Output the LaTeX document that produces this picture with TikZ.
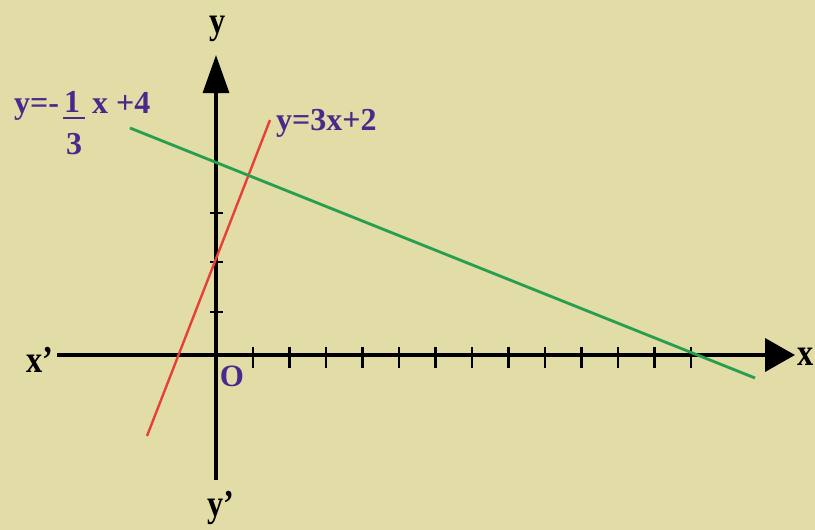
\documentclass[tikz,border=0pt]{standalone}
\usepackage{fontspec}
\setmainfont{Liberation Serif}
\usetikzlibrary{arrows.meta}
\definecolor{bgkhaki}{RGB}{226,221,167}
\definecolor{labpurple}{RGB}{72,42,140}
\definecolor{redline}{RGB}{230,64,56}
\definecolor{greenline}{RGB}{40,158,78}
\tikzset{
  axislbl/.style={font=\fontsize{38}{40}\selectfont\bfseries, text=black, inner sep=0pt, xscale=0.85},
  eqlbl/.style={font=\fontsize{32}{36}\selectfont\bfseries, text=labpurple, inner sep=0pt},
  axisline/.style={black, line width=4pt},
  tickmark/.style={black, line width=2.2pt},
  redgraph/.style={redline, line width=2.4pt},
  greengraph/.style={greenline, line width=2.8pt}
}
\begin{document}
\begin{tikzpicture}[x=1pt, y=-1pt]
\useasboundingbox[fill=bgkhaki] (0,0) rectangle (815,530);
% axes
\coordinate (xa) at (57,355);
\coordinate (xb) at (795,355);
\coordinate (ya) at (216,480);
\coordinate (yb) at (216,55);
% ticks
\foreach \k in {0,...,12}{
  \draw[tickmark] ({253+36.5*\k},347) -- ({253+36.5*\k},368);
}
\foreach \t in {213,262,312}{
  \draw[tickmark] (210,\t) -- (223,\t);
}
\draw[axisline, -{Triangle[length=30pt,width=33pt]}] (xa) -- (xb);
\draw[black, line width=3.2pt, -{Triangle[length=38pt,width=26pt]}] (ya) -- (yb);
% graphs
\coordinate (r1) at (147,436);
\coordinate (r2) at (270,120);
\coordinate (g1) at (130,128);
\coordinate (g2) at (755,378);
\draw[redgraph] (r1) -- (r2);
\draw[greengraph] (g1) -- (g2);
% axis labels
\node[axislbl, anchor=center] (xpl) at (40,360) {x’};
\node[axislbl, anchor=east] (xl) at (814,357) {x};
\node[axislbl, anchor=center] (yl) at (218,29) {y};
\node[axislbl, anchor=center] (ypl) at (221,508) {y’};
\node[eqlbl, anchor=center, font=\fontsize{31}{32}\selectfont\bfseries] (ol) at (232,376) {O};
% equation labels
\node[eqlbl, anchor=base west] (eqr) at (276,130) {y=3x+2};
\node[eqlbl, anchor=base west] (eqg1) at (14,113) {y=-};
\node[eqlbl, anchor=base] (eqg2) at (72,112) {1};
\node[eqlbl, anchor=base] (eqg3) at (74,154) {3};
\draw[labpurple, line width=2pt] (63,118) -- (85,118);
\node[eqlbl, anchor=base west] (eqg4) at (92,113) {x +4};
\end{tikzpicture}
\end{document}
